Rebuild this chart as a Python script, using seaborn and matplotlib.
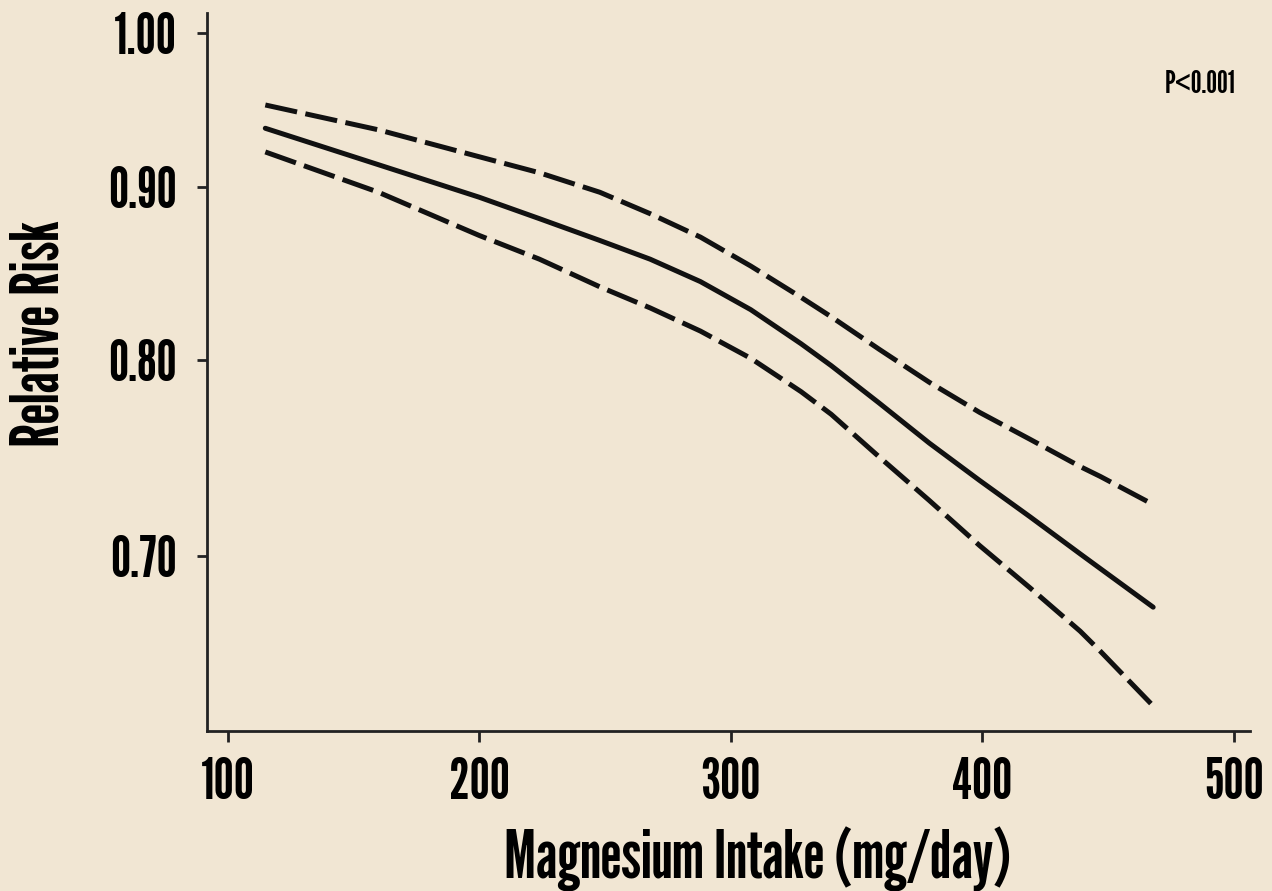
import numpy as np
import matplotlib
matplotlib.use("Agg")
import matplotlib.pyplot as plt
import pandas as pd
import seaborn as sns

intake = [115, 160, 200, 224, 248, 268, 288, 308, 328, 340, 359, 379, 399, 419, 439, 447, 468]
rr_fit = [0.937, 0.914, 0.894, 0.881, 0.868, 0.857, 0.844, 0.828, 0.809, 0.797, 0.777,
          0.756, 0.737, 0.719, 0.701, 0.694, 0.676]
rr_upper = [0.952, 0.936, 0.919, 0.909, 0.897, 0.884, 0.870, 0.853, 0.835, 0.824, 0.806,
            0.788, 0.772, 0.758, 0.744, 0.739, 0.725]
rr_lower = [0.922, 0.897, 0.871, 0.857, 0.841, 0.829, 0.816, 0.801, 0.783, 0.771, 0.749,
            0.727, 0.705, 0.685, 0.665, 0.656, 0.632]
yticks = [0.70, 0.80, 0.90, 1.00]
xticks = [100, 200, 300, 400, 500]

bg = '#F1E6D3'
ink = '#111111'

df = pd.concat([
    pd.DataFrame({'x': intake, 'rr': rr_fit, 'band': 'fit'}),
    pd.DataFrame({'x': intake, 'rr': rr_upper, 'band': 'upper'}),
    pd.DataFrame({'x': intake, 'rr': rr_lower, 'band': 'lower'}),
])

sns.set_style('ticks')
plt.rcParams['font.family'] = ['League Gothic', 'DejaVu Sans']
plt.rcParams['text.color'] = 'black'

fig = plt.figure(figsize=(12.72, 8.91), dpi=100, facecolor=bg)
ax = fig.add_axes([0.1627, 0.1799, 0.8200, 0.8055])
ax.set_facecolor(bg)

sns.lineplot(data=df, x='x', y='rr', hue='band', style='band',
             palette={'fit': ink, 'upper': ink, 'lower': ink},
             dashes={'fit': '', 'upper': (6.5, 1.7), 'lower': (6.5, 1.7)},
             linewidth=3.6, legend=False, ax=ax, sort=False)

ax.set_yscale('log')
ax.set_xlim(91.8, 506.5)
ax.set_ylim(0.6214, 1.0136)
ax.set_yticks(yticks)
ax.set_yticklabels(['%.2f' % v for v in yticks])
ax.yaxis.set_minor_locator(matplotlib.ticker.NullLocator())
ax.set_xticks(xticks)
ax.set_xticklabels([str(v) for v in xticks])

for s in ['top', 'right']:
    ax.spines[s].set_visible(False)
for s in ['left', 'bottom']:
    ax.spines[s].set_linewidth(2)
    ax.spines[s].set_color('#222222')

ax.tick_params(axis='y', length=7, width=2, pad=15, labelsize=41, colors='#222222', labelcolor='black')
ax.tick_params(axis='x', length=8, width=2, pad=11, labelsize=41, colors='#222222', labelcolor='black')

ax.set_xlabel('Magnesium Intake (mg/day)', fontsize=48, color='black', labelpad=12)
ax.set_ylabel('Relative Risk', fontsize=48, color='black', labelpad=26)
ax.xaxis.label.set_x(0.528)
ax.yaxis.label.set_y(0.553)

ax.text(0.9865, 0.8997, 'P<0.001', transform=ax.transAxes, ha='right', va='center',
        fontsize=22, color='black')

fig.savefig('out.png', dpi=100, facecolor=bg)
